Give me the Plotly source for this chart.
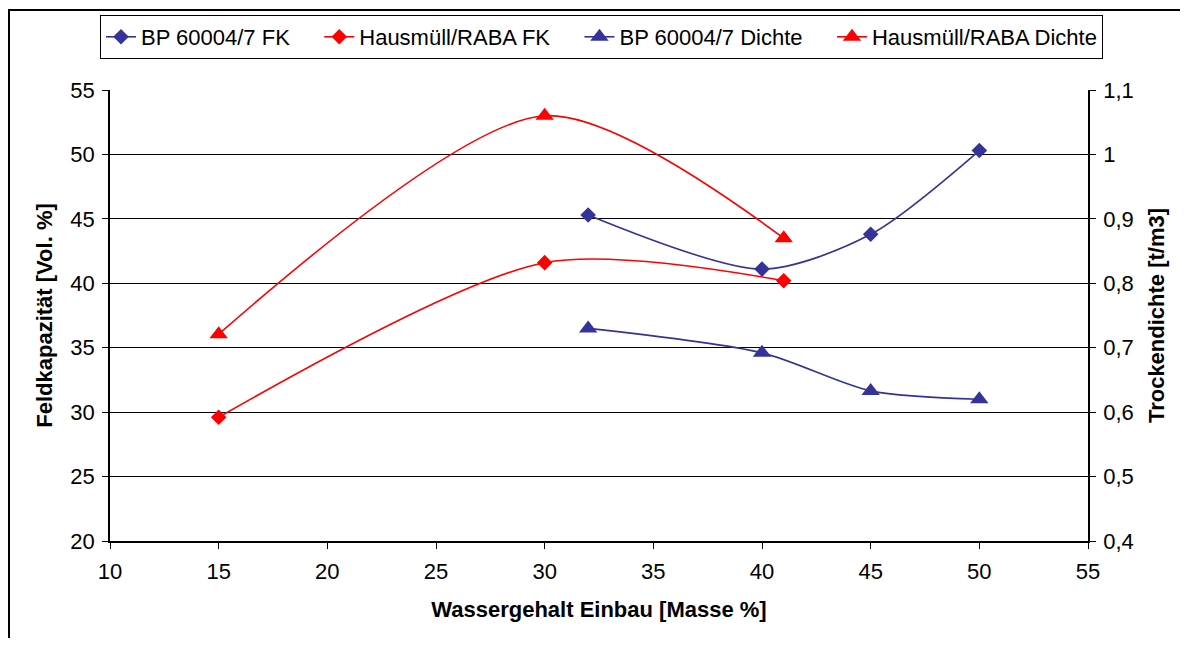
import plotly.graph_objects as go

# Data
bp_x = [32, 40, 45, 50]
bp_fk = [45.3, 41.1, 43.8, 50.3]
bp_dichte = [0.73, 0.692, 0.633, 0.62]

hm_x = [15, 30, 41]
hm_fk = [29.6, 41.6, 40.2]
hm_dichte = [0.721, 1.06, 0.87]

names = ["BP 60004/7 FK", "Hausmüll/RABA FK", "BP 60004/7 Dichte", "Hausmüll/RABA Dichte"]

BLUE = "#333399"
RED = "#FF0000"
FONT = "Liberation Sans, Arial, sans-serif"
FS = 22
PAD = "\u00a0" * 4  # extra spacing between legend entries

fig = go.Figure()

def add(x, y, name, color, symbol, axis, pad=True):
    fig.add_trace(go.Scatter(
        x=x, y=y, name=name + (PAD if pad else ""), mode="lines+markers", yaxis=axis,
        line=dict(color=color, width=1.6, shape="spline", smoothing=0.8),
        marker=dict(symbol=symbol, size=12 if symbol == "diamond" else 16, color=color),
    ))

add(bp_x, bp_fk, names[0], BLUE, "diamond", "y")
add(hm_x, hm_fk, names[1], RED, "diamond", "y")
add(bp_x, bp_dichte, names[2], BLUE, "triangle-up", "y2")
add(hm_x, hm_dichte, names[3], RED, "triangle-up", "y2", pad=False)

# page is offset by the 8px body margin
OFF = 8
W, H = 1172, 630
L, T = 110 - OFF, 90 - OFF
pw, ph = 978, 451
R = W - L - pw
B = H - T - ph

def px_x(p):
    return (p - OFF - L) / pw

def px_y(p):
    return (T + ph - (p - OFF)) / ph

fig.update_layout(
    width=W, height=H,
    margin=dict(l=L, r=R, t=T, b=B, autoexpand=False),
    paper_bgcolor="white", plot_bgcolor="white",
    separators=", ",
    font=dict(family=FONT, size=FS, color="black"),
    showlegend=True,
    legend=dict(
        orientation="h", x=px_x(100), xanchor="left", y=px_y(15), yanchor="top",
        bordercolor="black", borderwidth=1, bgcolor="white",
        font=dict(size=FS), itemwidth=30, tracegroupgap=0,
    ),
    xaxis=dict(
        range=[10, 55], dtick=5, tick0=10, showgrid=False, zeroline=False,
        showline=True, linecolor="black", linewidth=1.5,
        ticks="outside", ticklen=6, tickcolor="black", ticklabelstandoff=4,
        title=dict(text="<b>Wassergehalt Einbau [Masse %]</b>", standoff=18, font=dict(size=FS)),
    ),
    yaxis=dict(
        range=[20, 55], dtick=5, tick0=20, showgrid=True, gridcolor="black", gridwidth=1,
        zeroline=False, showline=True, linecolor="black", linewidth=1.5,
        ticks="outside", ticklen=6, tickcolor="black", ticklabelstandoff=3,
        title=dict(text="<b>Feldkapazität [Vol. %]</b>", standoff=12, font=dict(size=FS)),
    ),
    yaxis2=dict(
        range=[0.4, 1.1], dtick=0.1, tick0=0.4, overlaying="y", side="right",
        showgrid=False, zeroline=False, showline=True, linecolor="black", linewidth=1.5,
        ticks="outside", ticklen=6, tickcolor="black", ticklabelstandoff=3,
        title=dict(text="<b>Trockendichte [t/m3]</b>", standoff=16, font=dict(size=FS)),
    ),
)

# Outer chart border (Excel chart area)
fig.add_shape(
    type="rect", xref="paper", yref="paper",
    x0=px_x(9), x1=px_x(1300), y0=px_y(800), y1=px_y(10),
    line=dict(color="black", width=2), fillcolor="rgba(0,0,0,0)", layer="below",
)

fig.write_html("out.html")
